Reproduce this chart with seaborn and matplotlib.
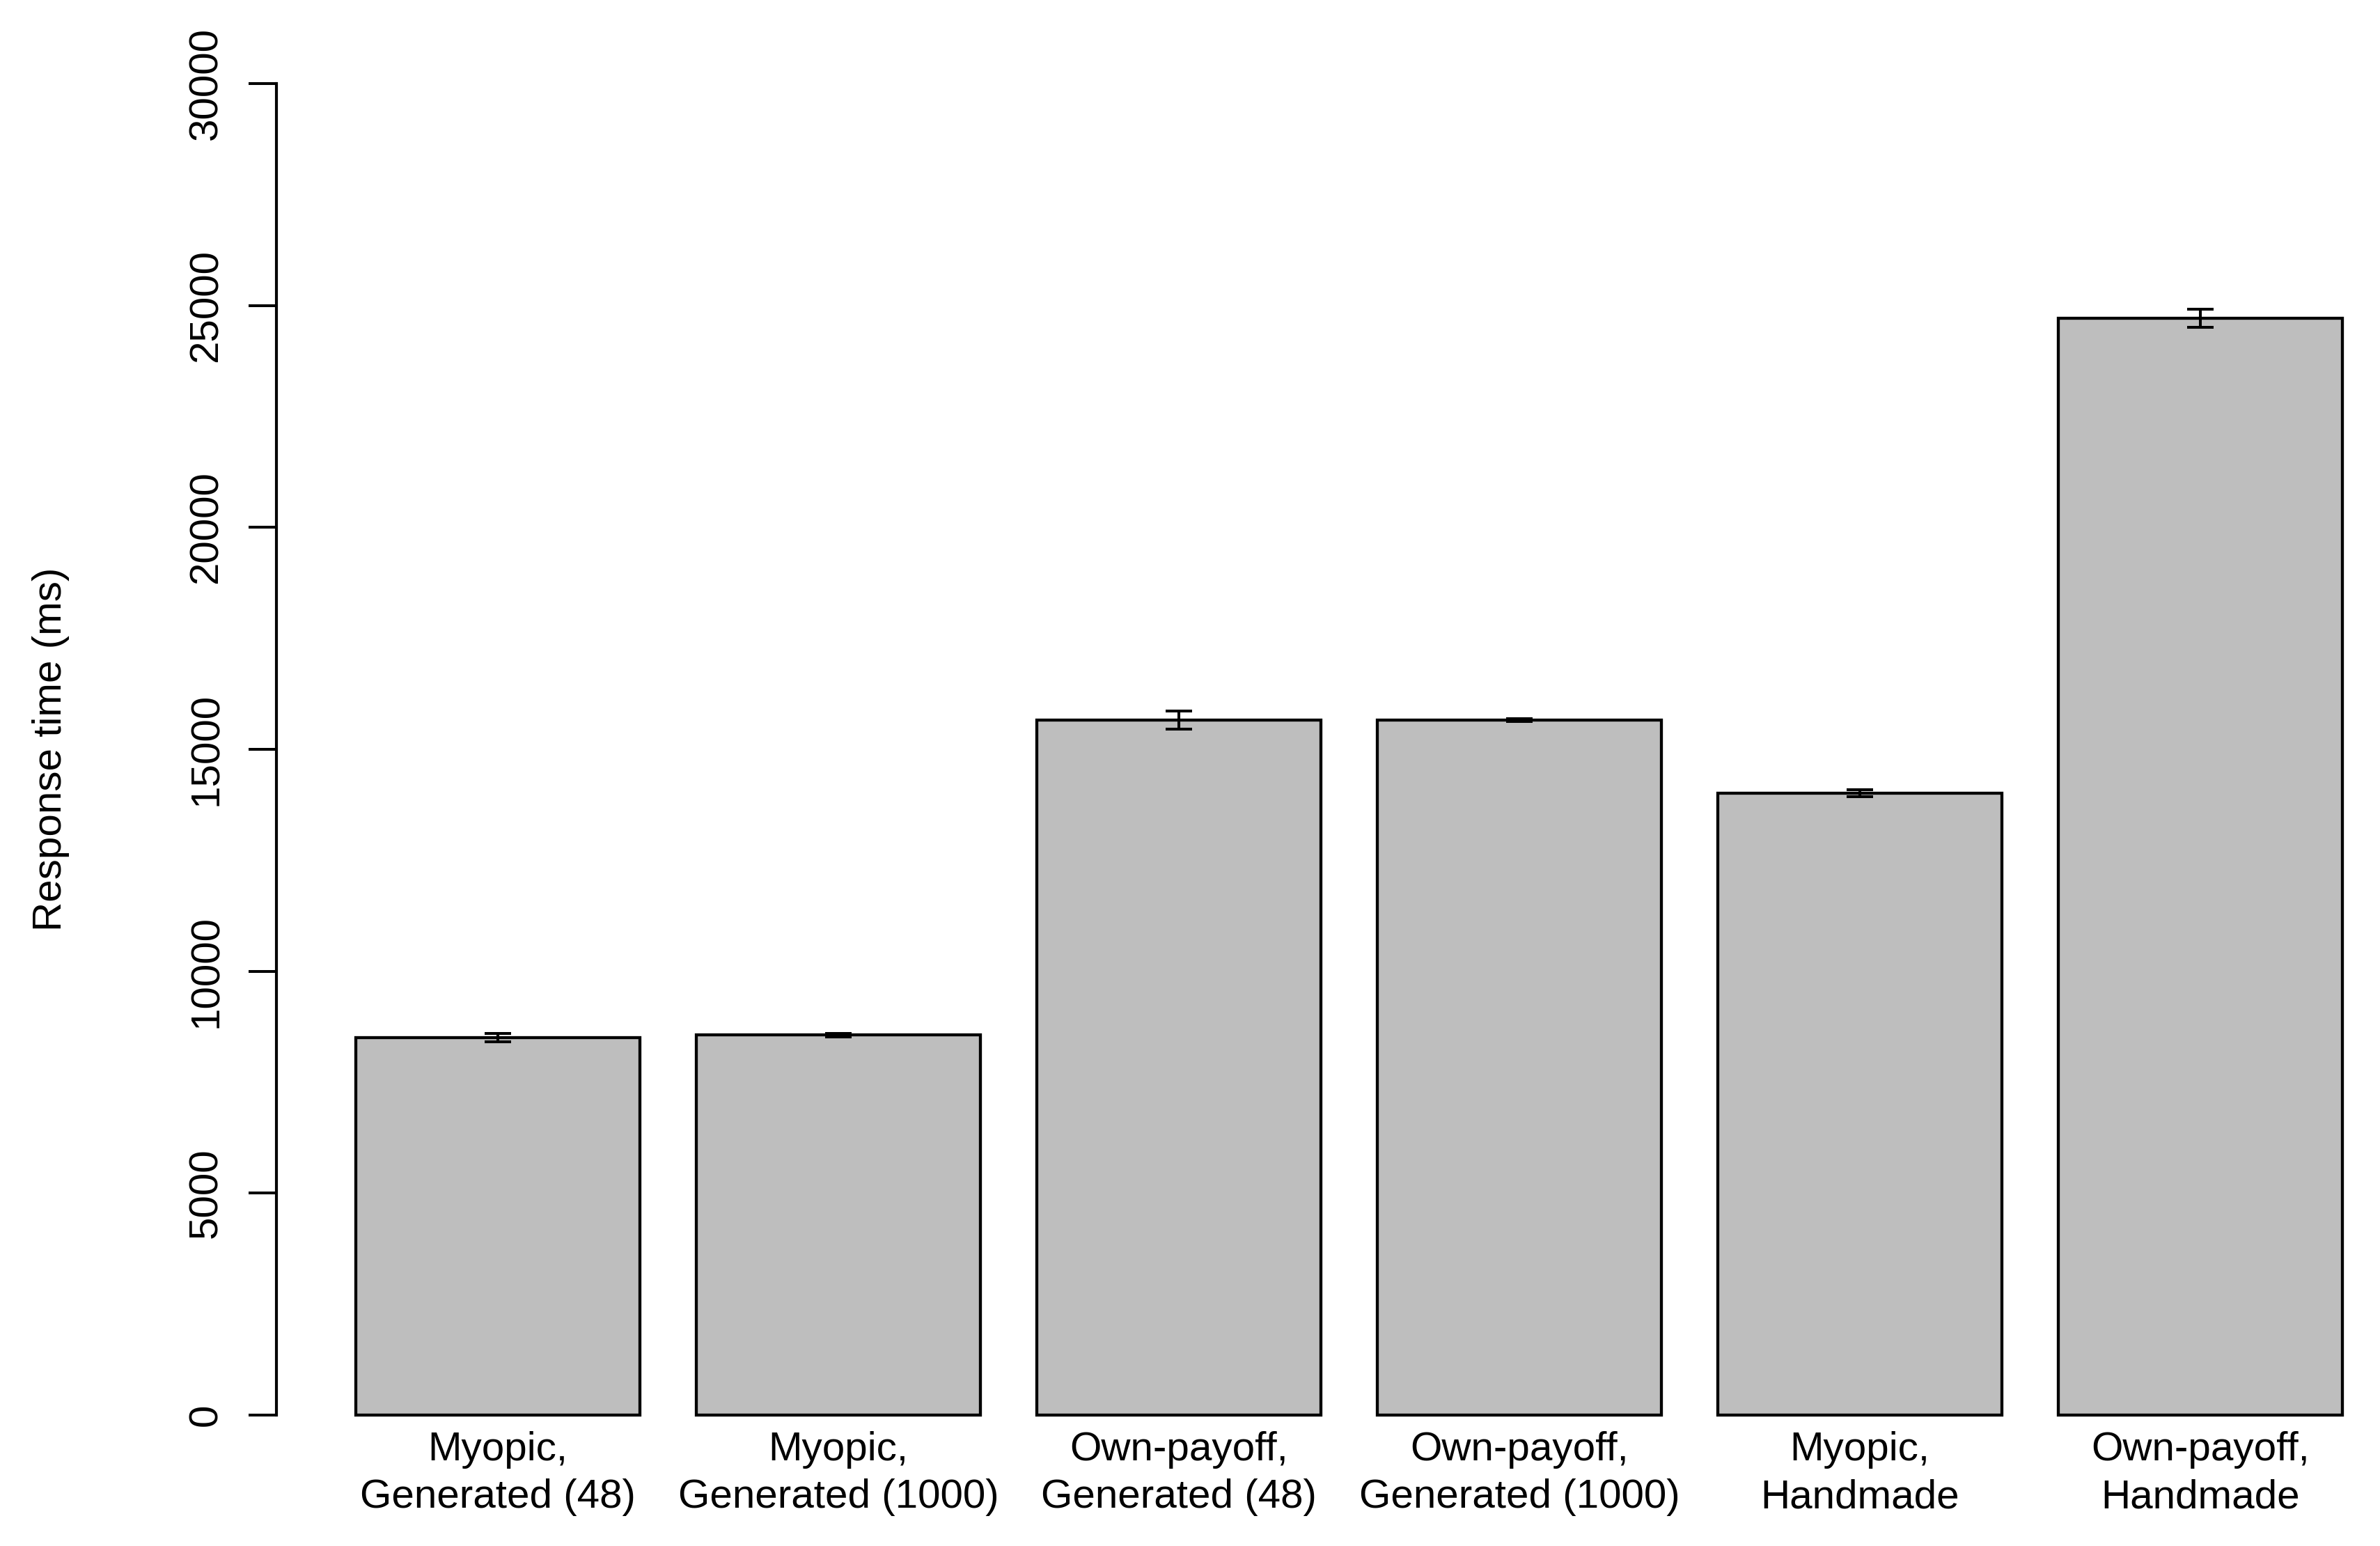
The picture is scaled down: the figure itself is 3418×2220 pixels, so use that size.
import matplotlib
matplotlib.use("Agg")
import matplotlib.pyplot as plt
import seaborn as sns
import pandas as pd

categories = ["Myopic,\nGenerated (48)", "Myopic,\nGenerated (1000)",
              "Own-payoff,\nGenerated (48)", "Own-payoff,\nGenerated (1000)",
              "Myopic,\nHandmade", "Own-payoff,\nHandmade"]
mean_rt = [8505, 8560, 15660, 15660, 14010, 24710]
err_rt = [95, 40, 205, 25, 80, 205]
y_ticks = [0, 5000, 10000, 15000, 20000, 25000, 30000]
y_label = "Response time (ms)"

sns.set_style("white")
plt.rcParams['font.family'] = ['Liberation Sans', 'DejaVu Sans']
plt.rcParams['text.color'] = 'black'
plt.rcParams['axes.labelcolor'] = 'black'
plt.rcParams['xtick.color'] = 'black'
plt.rcParams['ytick.color'] = 'black'

df = pd.DataFrame({"cond": categories, "rt": mean_rt})

fig = plt.figure(figsize=(34.18, 22.2), dpi=100)
ax = fig.add_axes([397/3418, 1-2108.5/2220, (3418-397)/3418, (2108.5-43.6)/2220])

sns.barplot(data=df, x="cond", y="rt", order=categories, color="#BEBEBE",
            saturation=1, edgecolor="black", linewidth=3.1, width=1/1.2,
            errorbar=None, ax=ax)
ax.errorbar(x=list(range(len(categories))), y=mean_rt, yerr=err_rt, fmt="none",
            ecolor="black", elinewidth=2.9, capsize=13.5, capthick=2.9, zorder=5)

ax.set_xlim(-0.65, 5.5275)
ax.set_ylim(-1200, 31200)
ax.set_yticks(y_ticks)
ax.set_yticklabels([str(t) for t in y_ticks])
for s in ["top", "right", "bottom"]:
    ax.spines[s].set_visible(False)
ax.spines["left"].set_bounds(0, 30000)
ax.spines["left"].set_linewidth(3)
ax.spines["left"].set_color("black")

ax.tick_params(axis="y", direction="out", length=28.8, width=2.9, pad=24,
               labelsize=42, labelrotation=90, left=True, colors="black")
ax.tick_params(axis="x", length=0, pad=5.5, labelsize=42, bottom=False,
               colors="black")
for lab in ax.get_yticklabels():
    lab.set_va("center")
for lab in ax.get_xticklabels():
    lab.set_va("center")
    lab.set_linespacing(1.33)

ax.set_xlabel("")
ax.set_ylabel(y_label, fontsize=42, color="black")
ax.yaxis.set_label_coords((100-397)/3021, 0.5)
ax.set_facecolor("white")
fig.patch.set_facecolor("white")

fig.savefig("out.png", dpi=100, facecolor="white")
